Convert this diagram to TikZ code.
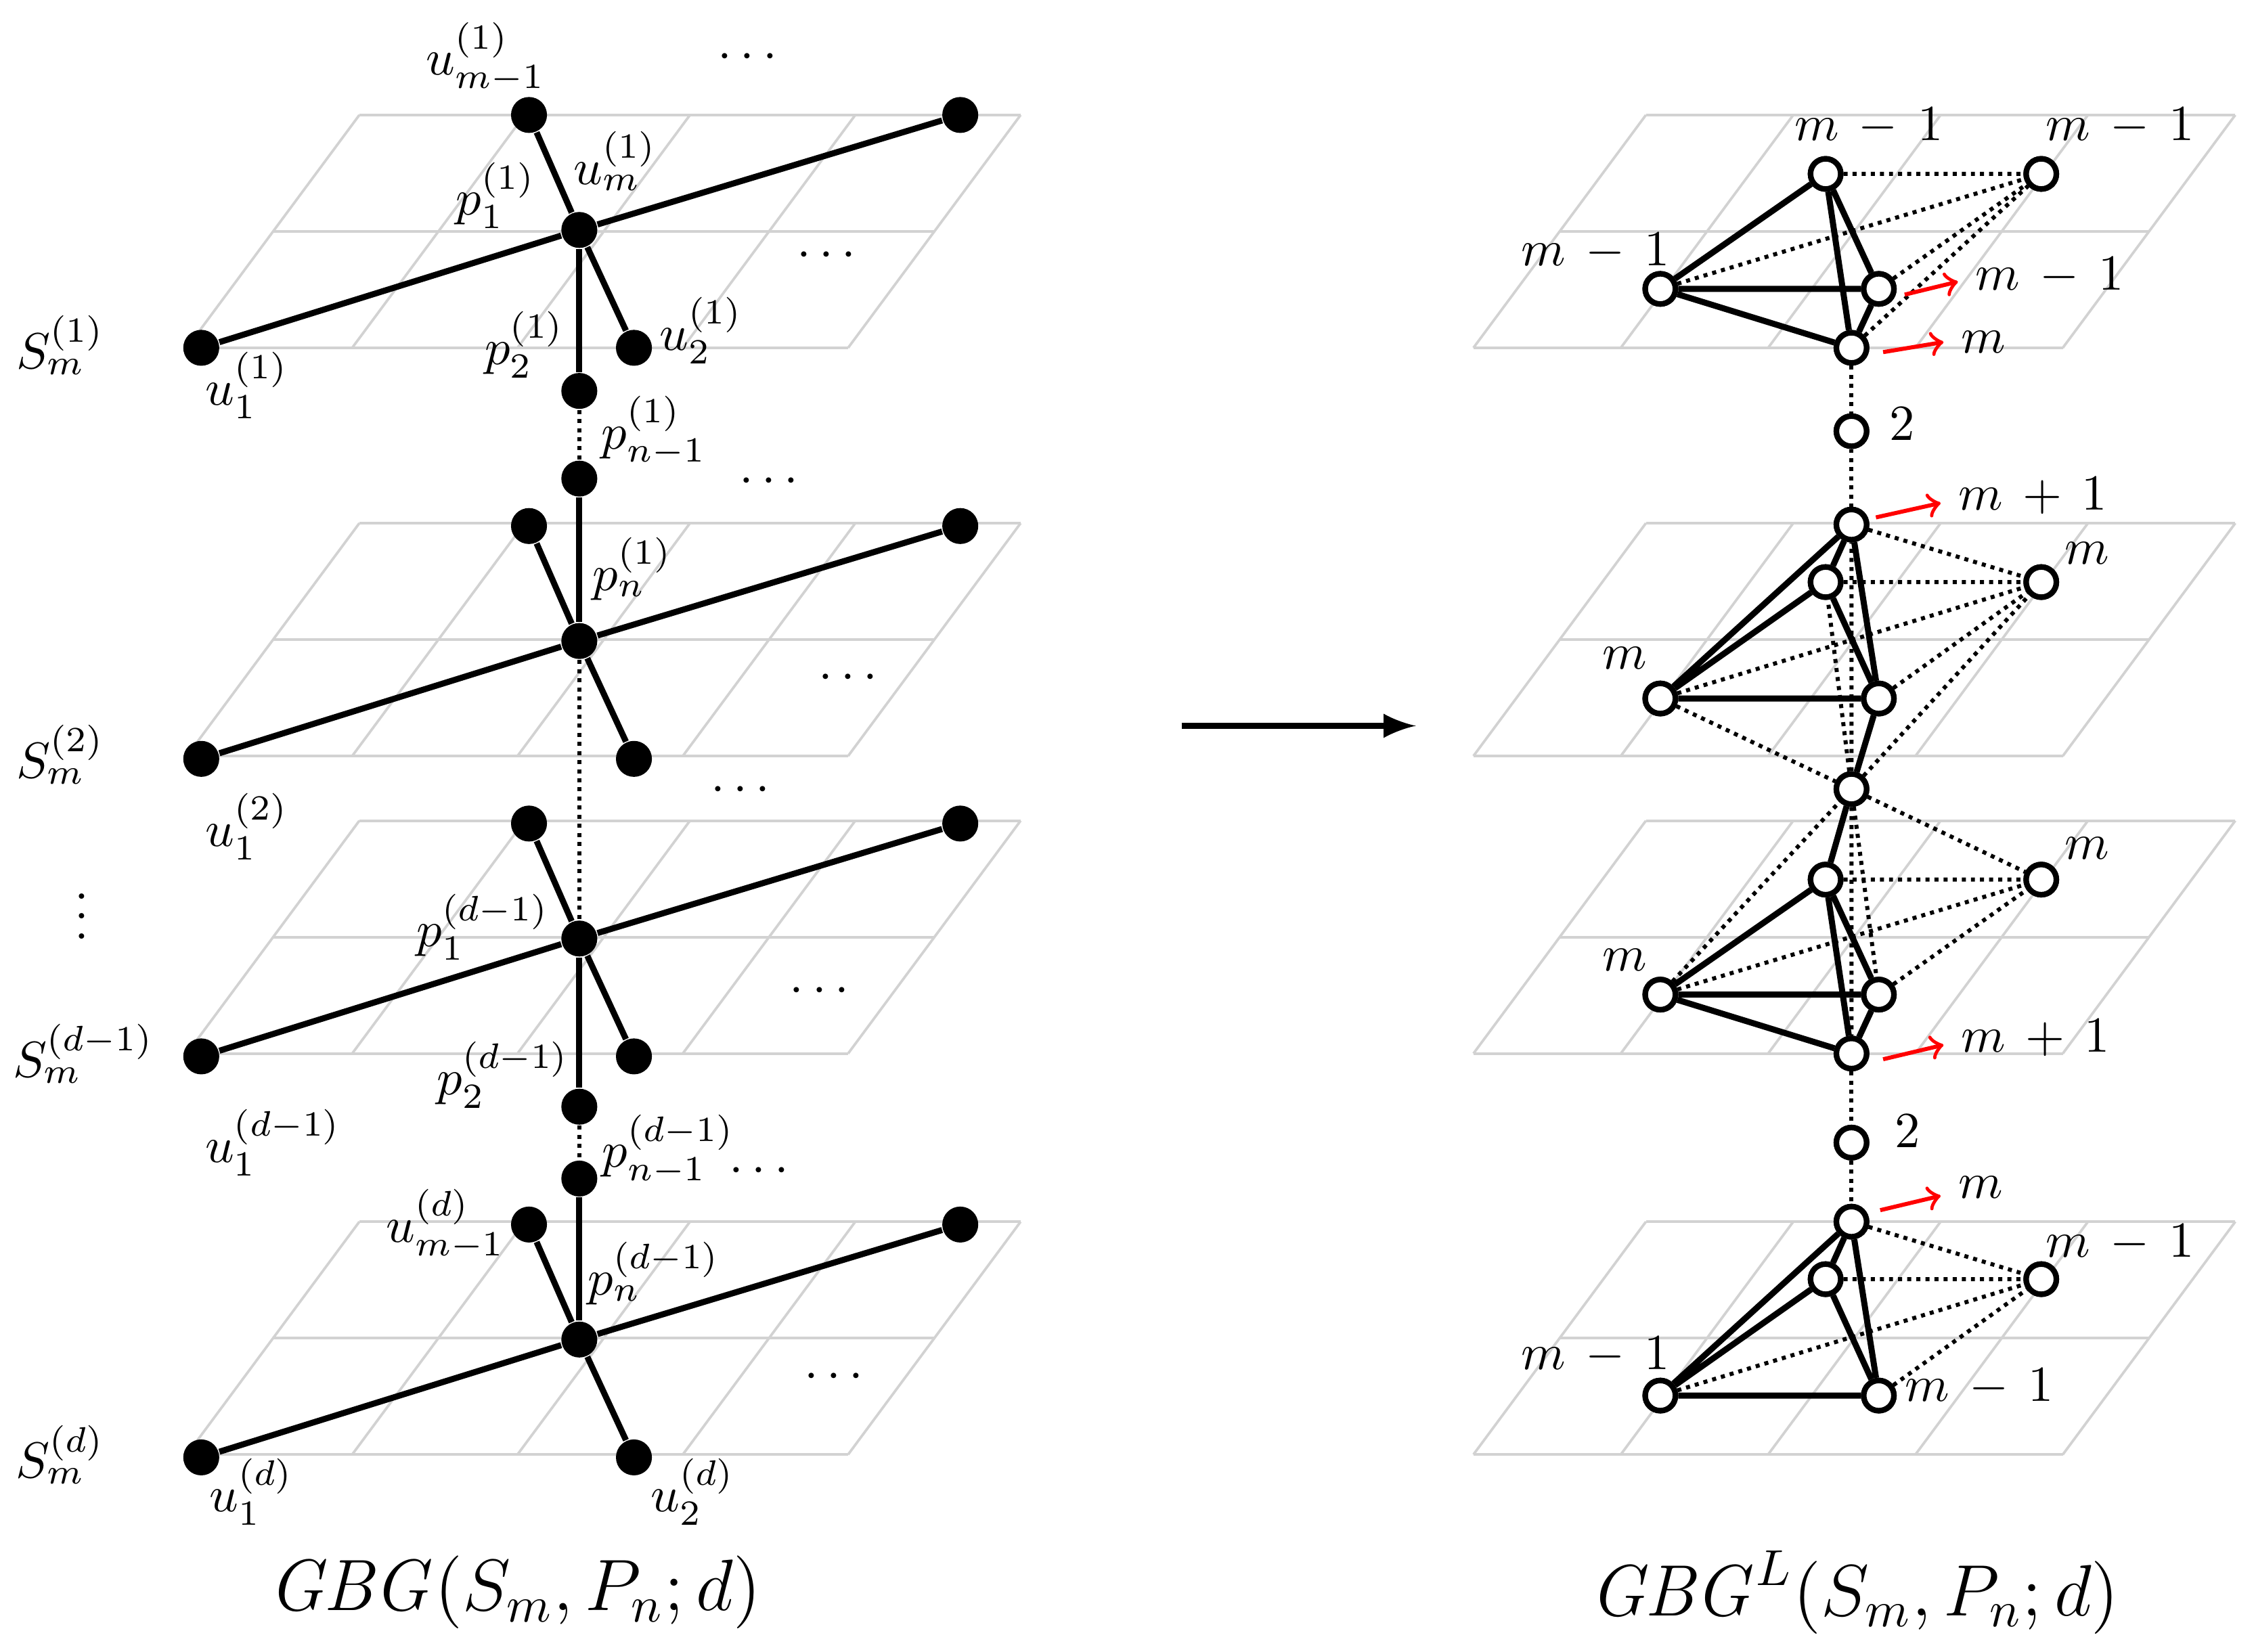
\documentclass[tikz,border=0pt]{standalone}
\begin{document}
\begin{tikzpicture}[x=0.01cm,y=-0.01cm,
 bn/.style={circle,fill=black,inner sep=0,minimum size=0.25cm},
 wn/.style={circle,draw=black,fill=white,line width=1.1pt,inner sep=0,minimum size=0.21cm},
 se/.style={line width=1.2pt},
 de/.style={densely dotted,line width=0.8pt},
 lab/.style={font=\normalsize},
 ra/.style={red,->,line width=0.8pt},
 gr/.style={gray!35,line width=0.5pt}]
\useasboundingbox (0,0) rectangle (1568,1149);
% planes
\foreach \x/\w in {130/460,1025/410}{
 \foreach \yb in {242,526,733,1012}{
  \foreach \k in {0,1,2,3,4}{\draw[gr] ({\x+\k*\w/4},\yb) -- ({\x+\k*\w/4+120},\yb-162);}
  \foreach \s in {0,1,2}{\draw[gr] ({\x+\s*60},\yb-\s*81) -- ({\x+\w+\s*60},\yb-\s*81);}
 }}
% left graph
\foreach \i/\c in {a/160,b/446,c/653,d/932}{
 \node[bn] (c\i) at (403,\c) {};
 \node[bn] (l\i) at (140,\c+82) {};
 \node[bn] (r\i) at (668,\c-80) {};
 \node[bn] (t\i) at (368,\c-80) {};
 \node[bn] (b\i) at (441,\c+82) {};
 \draw[se] (l\i)--(c\i)--(r\i); \draw[se] (t\i)--(c\i)--(b\i);
}
\node[bn] (p2a) at (403,272) {};
\node[bn] (pna) at (403,333) {};
\node[bn] (p2c) at (403,770) {};
\node[bn] (pnc) at (403,820) {};
\draw[se] (ca)--(p2a); \draw[de] (p2a)--(pna); \draw[se] (pna)--(cb);
\draw[de] (cb)--(cc); \draw[se] (cc)--(p2c); \draw[de] (p2c)--(pnc); \draw[se] (pnc)--(cd);
% left labels
\node[lab] at (42,240) {$S_m^{(1)}$};
\node[lab] at (42,525) {$S_m^{(2)}$};
\node[lab] at (58,733) {$S_m^{(d-1)}$};
\node[lab] at (42,1012) {$S_m^{(d)}$};
\node[lab] at (57,627) {$\vdots$};
\node[lab] at (338,40) {$u_{m-1}^{(1)}$};
\node[lab] at (428,112) {$u_m^{(1)}$};
\node[lab] at (345,136) {$p_1^{(1)}$};
\node[lab] at (488,230) {$u_2^{(1)}$};
\node[lab] at (365,240) {$p_2^{(1)}$};
\node[lab] at (172,268) {$u_1^{(1)}$};
\node[lab] at (455,300) {$p_{n-1}^{(1)}$};
\node[lab] at (440,396) {$p_n^{(1)}$};
\node[lab] at (172,575) {$u_1^{(2)}$};
\node[lab] at (336,645) {$p_1^{(d-1)}$};
\node[lab] at (350,748) {$p_2^{(d-1)}$};
\node[lab] at (190,795) {$u_1^{(d-1)}$};
\node[lab] at (465,800) {$p_{n-1}^{(d-1)}$};
\node[lab] at (310,852) {$u_{m-1}^{(d)}$};
\node[lab] at (455,886) {$p_n^{(d-1)}$};
\node[lab] at (175,1038) {$u_1^{(d)}$};
\node[lab] at (482,1038) {$u_2^{(d)}$};
\foreach \p in {(520,40),(575,178),(535,335),(590,472),(515,550),(570,690),(528,815),(580,958)}
 \node[lab] at \p {$\cdots$};
\node[font=\Large] at (358,1108) {$\mathit{GBG}(S_m,P_n;d)$};
\node[font=\Large] at (1290,1108) {$\mathit{GBG}^L(S_m,P_n;d)$};
% arrow
\coordinate (a1) at (822,505); \coordinate (a2) at (985,505);
\draw[line width=1.2pt,-latex] (a1)--(a2);
% right graph
\node[wn] (A1) at (1270,121) {}; \node[wn] (B1) at (1420,121) {};
\node[wn] (C1) at (1155,201) {}; \node[wn] (D1) at (1307,201) {};
\node[wn] (E1) at (1288,242) {};
\node[wn] (F) at (1288,300) {};
\node[wn] (G) at (1288,365) {}; \node[wn] (H2) at (1270,405) {};
\node[wn] (B2) at (1420,405) {}; \node[wn] (C2) at (1155,486) {};
\node[wn] (D2) at (1307,486) {}; \node[wn] (I) at (1288,549) {};
\node[wn] (H3) at (1270,612) {}; \node[wn] (B3) at (1420,612) {};
\node[wn] (C3) at (1155,692) {}; \node[wn] (D3) at (1307,692) {};
\node[wn] (J) at (1288,733) {};
\node[wn] (K) at (1288,795) {};
\node[wn] (L) at (1288,850) {}; \node[wn] (M) at (1270,890) {};
\node[wn] (B4) at (1420,890) {}; \node[wn] (C4) at (1155,971) {};
\node[wn] (D4) at (1307,971) {};
\draw[se] (C1)--(A1) (C1)--(D1) (C1)--(E1) (A1)--(D1) (A1)--(E1) (D1)--(E1);
\draw[de] (A1)--(B1) (D1)--(B1) (E1)--(B1) (C1)--(B1);
\draw[de] (E1)--(F)--(G);
\draw[se] (C2)--(G) (C2)--(H2) (C2)--(D2) (G)--(D2) (H2)--(D2) (D2)--(I) (G)--(H2);
\draw[de] (G)--(B2) (H2)--(B2) (D2)--(B2) (C2)--(B2) (C2)--(I) (I)--(B2) (I)--(H2) (I)--(G);
\draw[se] (C3)--(H3) (C3)--(D3) (C3)--(J) (H3)--(D3) (H3)--(J) (D3)--(J) (I)--(H3);
\draw[de] (C3)--(I) (I)--(B3) (H3)--(B3) (D3)--(B3) (C3)--(B3) (I)--(J) (I)--(D3);
\draw[de] (J)--(K)--(L);
\draw[se] (C4)--(L) (C4)--(M) (C4)--(D4) (L)--(D4) (M)--(D4) (L)--(M);
\draw[de] (L)--(B4) (M)--(B4) (D4)--(B4) (C4)--(B4);
\foreach \n in {A1,B1,C1,D1,E1,F,G,H2,B2,C2,D2,I,H3,B3,C3,D3,J,K,L,M,B4,C4,D4}
 \node[wn] at (\n) {};
% right labels
\node[lab] at (1300,88) {$m\,-\,1$};
\node[lab] at (1475,88) {$m\,-\,1$};
\node[lab] at (1110,175) {$m\,-\,1$};
\coordinate (r1a) at (1325,205); \coordinate (r1b) at (1362,196);
\draw[ra] (r1a)--(r1b); \node[lab,right] at (1362,192) {$m\,-\,1$};
\coordinate (r2a) at (1310,245); \coordinate (r2b) at (1352,238);
\draw[ra] (r2a)--(r2b); \node[lab,right] at (1352,238) {$m$};
\node[lab,right] at (1302,295) {$2$};
\coordinate (r3a) at (1305,360); \coordinate (r3b) at (1350,350);
\draw[ra] (r3a)--(r3b); \node[lab,right] at (1350,345) {$m\,+\,1$};
\node[lab] at (1452,385) {$m$};
\node[lab] at (1130,458) {$m$};
\node[lab] at (1452,590) {$m$};
\node[lab] at (1130,668) {$m$};
\coordinate (r4a) at (1310,737); \coordinate (r4b) at (1352,727);
\draw[ra] (r4a)--(r4b); \node[lab,right] at (1352,722) {$m\,+\,1$};
\node[lab,right] at (1306,787) {$2$};
\coordinate (r5a) at (1308,842); \coordinate (r5b) at (1350,832);
\draw[ra] (r5a)--(r5b); \node[lab,right] at (1350,826) {$m$};
\node[lab] at (1475,865) {$m\,-\,1$};
\node[lab] at (1110,943) {$m\,-\,1$};
\node[lab] at (1377,965) {$m\,-\,1$};
\end{tikzpicture}
\end{document}
